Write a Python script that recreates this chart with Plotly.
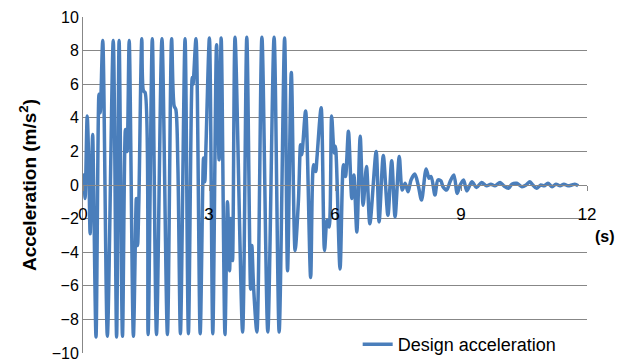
import plotly.graph_objects as go

# Time (s) and acceleration (m/s^2) (local extrema)
time_s = [0.00, 0.02, 0.05, 0.10, 0.14, 0.17, 0.23, 0.25, 0.31, 0.38, 0.41, 0.47,
          0.58, 0.72, 0.80, 0.86, 0.94, 1.01, 1.05, 1.10, 1.20, 1.27, 1.30, 1.33,
          1.40, 1.44, 1.48, 1.55, 1.65, 1.75, 1.88, 2.01, 2.11, 2.17, 2.21, 2.26,
          2.32, 2.43, 2.51, 2.60, 2.62, 2.69, 2.79, 2.87, 2.90, 2.93, 3.01, 3.09,
          3.18, 3.24, 3.29, 3.38, 3.44, 3.49, 3.52, 3.56, 3.62, 3.80, 3.90, 3.99,
          4.02, 4.06, 4.14, 4.26, 4.40, 4.55, 4.67, 4.80, 4.87, 4.96, 5.05, 5.13,
          5.18, 5.21, 5.30, 5.42, 5.49, 5.54, 5.57, 5.67, 5.75, 5.81, 5.86, 5.92,
          5.98, 6.01, 6.12, 6.20, 6.25, 6.32, 6.40, 6.45, 6.52, 6.60, 6.67, 6.75,
          6.83, 6.98, 7.05, 7.15, 7.26, 7.35, 7.43, 7.53, 7.60, 7.67, 7.74, 7.81,
          7.90, 7.98, 8.06, 8.17, 8.24, 8.29, 8.38, 8.45, 8.52, 8.57, 8.66, 8.74,
          8.83, 8.91, 8.98, 9.06, 9.14, 9.26, 9.37, 9.49, 9.61, 9.71, 9.81, 9.93,
          10.02, 10.13, 10.21, 10.33, 10.45, 10.55, 10.64, 10.71, 10.80, 10.90, 10.98, 11.07,
          11.17, 11.26, 11.36, 11.45, 11.55, 11.64, 11.71, 11.79]
accel = [0.0, 0.6, -0.8, 4.1, 1.0, -2.9, 3.0, 0.5, -9.05, 5.4, 4.3, 8.6,
         -9.0, 8.6, -9.05, 8.6, -9.0, 3.3, 2.0, 8.6, -9.0, -0.8, -3.6, -1.0,
         8.7, 5.6, 5.5, -8.9, 8.7, -8.9, 8.7, -8.9, 8.7, 4.7, 4.5, 1.0,
         -8.85, 8.7, -8.85, 6.4, 6.0, 8.7, -8.85, 1.6, 0.2, 2.5, 8.75, -8.85,
         8.35, 1.5, 8.75, -8.9, -1.0, -5.1, -2.0, -4.5, 8.8, -8.75, 8.8, -6.2,
         -3.6, -6.0, -8.75, 8.8, -8.75, 8.8, -8.75, 8.75, -5.1, 6.7, -3.9, -0.9,
         2.4, 1.8, 4.4, -5.5, 1.2, 0.8, 1.6, 4.6, -3.9, -2.1, -2.5, 4.1,
         1.9, 2.3, -5.0, 1.2, 0.5, 3.2, -0.8, 0.6, -2.8, 2.9, -1.2, 1.1,
         -2.3, 2.0, -2.2, 1.75, -1.8, 1.45, -1.9, 1.7, -0.3, 0.1, -0.4, 0.3,
         0.65, 0.0, -0.9, 0.95, 0.4, 0.5, -0.6, 0.3, 0.25, -0.1, -0.3, 0.2,
         0.6, -0.5, 0.0, 0.3, -0.35, 0.2, -0.15, 0.15, -0.05, 0.05, -0.05, 0.15,
         -0.05, -0.2, 0.05, 0.1, -0.1, 0.0, 0.2, 0.0, -0.2, 0.0, -0.05, 0.1,
         -0.1, 0.05, -0.05, 0.05, -0.05, 0.0, 0.05, -0.05]

x_ticks = [0, 3, 6, 9, 12]
y_ticks = [-10, -8, -6, -4, -2, 0, 2, 4, 6, 8, 10]
series_name = "Design acceleration"

FONT = "Liberation Sans"
BLUE = "#4A7EBB"
GRID = "#878787"

# plot area: paper spans 17..363 px, y axis occupies 17..353 px
Y_DOMAIN_LOW = 10 / 346
ZERO_POS = (363 - 185) / 346

fig = go.Figure()
fig.add_trace(go.Scatter(
    x=time_s, y=accel, mode="lines", name=series_name,
    line=dict(color=BLUE, width=3.5, shape="spline", smoothing=0.8),
))

fig.update_layout(
    width=629, height=363,
    margin=dict(l=83, r=42, t=17, b=0),
    paper_bgcolor="white", plot_bgcolor="white",
    font=dict(family=FONT, size=16, color="black"),
    showlegend=True,
    legend=dict(x=0.545, y=0.0, xanchor="left", yanchor="bottom",
                bgcolor="rgba(255,255,255,0)", font=dict(size=18, family=FONT),
                itemwidth=30),
    xaxis=dict(range=[0, 12], tickvals=x_ticks, ticktext=[str(v) for v in x_ticks],
               showgrid=False, zeroline=False, showline=True, linecolor=GRID, linewidth=1,
               ticks="outside", ticklen=5, tickcolor=GRID, ticklabelstandoff=9,
               anchor="free", position=ZERO_POS, automargin=False,
               tickfont=dict(size=17, family=FONT)),
    yaxis=dict(range=[-10, 10], domain=[Y_DOMAIN_LOW, 1], tickvals=y_ticks,
               showgrid=True, gridcolor=GRID, gridwidth=1,
               zeroline=False, showline=True, linecolor=GRID, linewidth=1, automargin=False,
               ticks="", tickfont=dict(size=16, family=FONT)),
)

fig.add_annotation(text="<b>Acceleration (m/s<sup>2</sup>)</b>", xref="paper", yref="paper",
                   x=-0.109, y=ZERO_POS, xanchor="center", yanchor="middle", textangle=-90,
                   showarrow=False, font=dict(size=19, family=FONT))
fig.add_annotation(text="<b>(s)</b>", xref="paper", yref="paper",
                   x=1.035, y=(363 - 236) / 346, xanchor="center", yanchor="middle",
                   showarrow=False, font=dict(size=16, family=FONT))

fig.write_html("out.html", config={"displayModeBar": False},
               post_script="document.body.style.margin='0px';")
